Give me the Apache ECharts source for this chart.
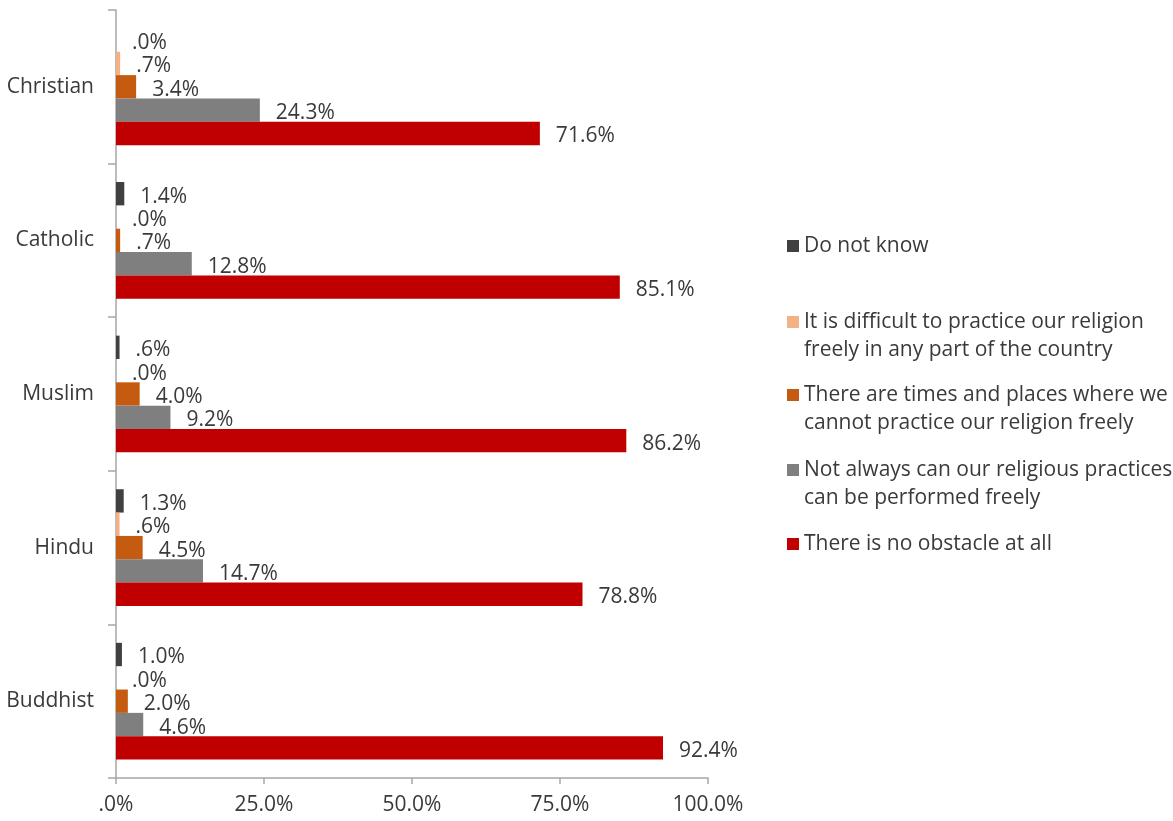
<!DOCTYPE html>
<html>
<head>
<meta charset="utf-8">
<script src="https://cdn.jsdelivr.net/npm/echarts@6/dist/echarts.min.js"></script>
<style>
html,body{margin:0;padding:0;background:#fff;}
#chart{width:1173px;height:821px;}
</style>
</head>
<body>
<div id="chart"></div>
<script>
// Categories (top to bottom)
const categories = ['Christian', 'Catholic', 'Muslim', 'Hindu', 'Buddhist'];

// Series names
const seriesNames = [
  'Do not know',
  'It is difficult to practice our religion freely in any part of the country',
  'There are times and places where we cannot practice our religion freely',
  'Not always can our religious practices can be performed freely',
  'There is no obstacle at all'
];

// Values per series (same order as categories)
const doNotKnow   = [0.0, 1.4, 0.6, 1.3, 1.0];
const difficult   = [0.7, 0.0, 0.0, 0.6, 0.0];
const timesPlaces = [3.4, 0.7, 4.0, 4.5, 2.0];
const notAlways   = [24.3, 12.8, 9.2, 14.7, 4.6];
const noObstacle  = [71.6, 85.1, 86.2, 78.8, 92.4];

// X-axis ticks
const xTicks = [0, 25, 50, 75, 100];

const seriesValues = [doNotKnow, difficult, timesPlaces, notAlways, noObstacle];
const colors = ['#404040', '#F4B183', '#C55A11', '#7F7F7F', '#C00000'];
const legendLabels = [
  'Do not know',
  'It is difficult to practice our religion\nfreely in any part of the country',
  'There are times and places where we\ncannot practice our religion freely',
  'Not always can our religious practices\ncan be performed freely',
  'There is no obstacle at all'
];
const legendTops = [232, 308, 381, 456, 530];

const FONT = '"Open Sans", "Noto Sans", sans-serif';
const TXT = '#3a3a3a';
const FS = 21;

function pct(v) {
  let s = Number(v).toFixed(1);
  if (s.startsWith('0')) s = s.slice(1);
  return s + '%';
}

const chart = echarts.init(document.getElementById('chart'), null, {renderer: 'canvas'});

const legends = seriesNames.map((name, i) => {
  const twoLine = legendLabels[i].indexOf('\n') >= 0;
  return {
    show: true,
    data: [name],
    left: 787,
    top: legendTops[i],
    orient: 'vertical',
    padding: 0,
    itemWidth: 12,
    itemHeight: twoLine ? 40 : 12,
    icon: twoLine ? 'path://M0,0L12,0L12,12L0,12Z M0,40L0.01,40' : 'rect',
    selectedMode: false,
    formatter: () => legendLabels[i],
    textStyle: {fontFamily: FONT, fontSize: FS, color: TXT, lineHeight: 28}
  };
});

const option = {
  backgroundColor: '#ffffff',
  animation: false,
  legend: legends,
  grid: {left: 116, right: 465, top: 10, bottom: 43, containLabel: false},
  xAxis: {
    type: 'value',
    min: xTicks[0],
    max: xTicks[xTicks.length - 1],
    interval: 25,
    splitLine: {show: false},
    axisLine: {show: true, lineStyle: {color: '#A6A6A6', width: 1.5}},
    axisTick: {show: true, length: 6, lineStyle: {color: '#A6A6A6', width: 1.5}},
    axisLabel: {
      margin: 17,
      fontFamily: FONT, fontSize: FS, color: TXT,
      formatter: v => pct(v)
    }
  },
  yAxis: {
    type: 'category',
    data: categories,
    inverse: true,
    axisLine: {show: true, lineStyle: {color: '#A6A6A6', width: 1.5}},
    axisTick: {show: true, length: 8, lineStyle: {color: '#A6A6A6', width: 1.5}},
    axisLabel: {margin: 22, fontFamily: FONT, fontSize: FS, color: TXT}
  },
  series: seriesNames.map((name, i) => ({
    name: name,
    type: 'bar',
    data: seriesValues[i],
    barGap: '0%',
    barCategoryGap: '24%',
    itemStyle: {color: colors[i]},
    label: {
      show: true,
      position: 'right',
      distance: 16,
      offset: [0, 3],
      fontFamily: FONT,
      fontSize: FS,
      color: TXT,
      formatter: p => pct(p.value)
    }
  }))
};

chart.setOption(option);
</script>
</body>
</html>
